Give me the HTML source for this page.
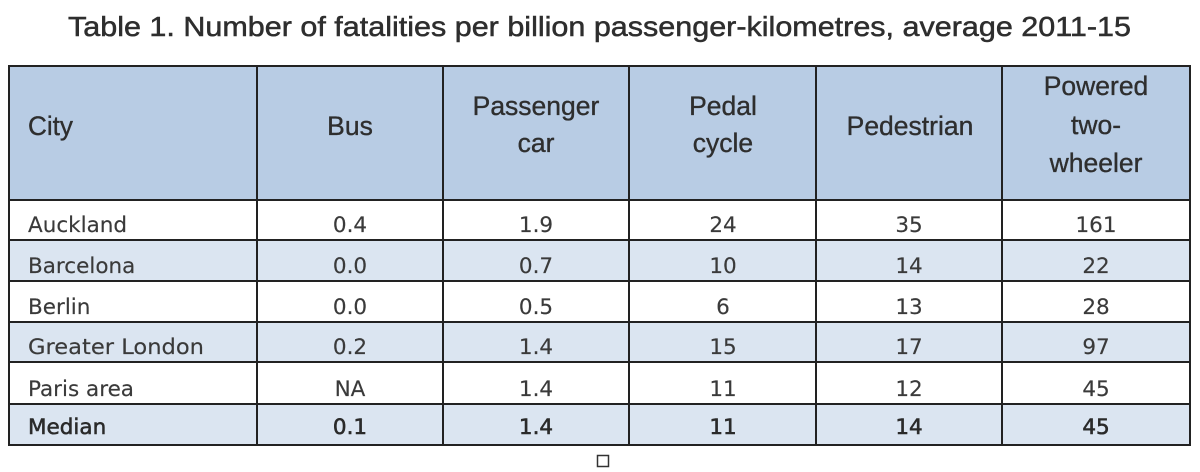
<!DOCTYPE html>
<html>
<head>
<meta charset="utf-8">
<style>
  html, body { margin: 0; padding: 0; background: #ffffff; }
  body { width: 1200px; height: 472px; overflow: hidden; }
  svg { display: block; }
  .title { font-family: "Liberation Sans", sans-serif; font-size: 28px; fill: #2e2e2e; stroke: #2e2e2e; stroke-width: 0.5px; }
  .hd { font-family: "Liberation Sans", sans-serif; font-size: 26.5px; fill: #2e2e2e; stroke: #2e2e2e; stroke-width: 0.35px; }
  .bd { font-family: "DejaVu Sans", "Liberation Sans", sans-serif; font-size: 21.5px; fill: #3a3a3a; stroke: #3a3a3a; stroke-width: 0.15px; }
  .bold { stroke: #2a2a2a; stroke-width: 0.55px; fill: #2a2a2a; }
</style>
</head>
<body>
<svg width="1200" height="472" viewBox="0 0 1200 472" xmlns="http://www.w3.org/2000/svg">
  <rect x="0" y="0" width="1200" height="472" fill="#ffffff"/>

  <!-- Title -->
  <text class="title" x="68" y="36" textLength="1063" lengthAdjust="spacingAndGlyphs">Table 1. Number of fatalities per billion passenger-kilometres, average 2011-15</text>

  <!-- Backgrounds -->
  <rect x="9" y="66" width="1181" height="134" fill="#b8cce4"/>
  <rect x="9" y="240" width="1181" height="41" fill="#dbe5f1"/>
  <rect x="9" y="322" width="1181" height="40" fill="#dbe5f1"/>
  <rect x="9" y="404" width="1181" height="41" fill="#dbe5f1"/>

  <!-- Grid lines -->
  <g stroke="#222222" stroke-width="2" fill="none">
    <line x1="8" y1="66" x2="1191" y2="66"/>
    <line x1="8" y1="200" x2="1191" y2="200"/>
    <line x1="8" y1="240" x2="1191" y2="240"/>
    <line x1="8" y1="281" x2="1191" y2="281"/>
    <line x1="8" y1="322" x2="1191" y2="322"/>
    <line x1="8" y1="362" x2="1191" y2="362"/>
    <line x1="8" y1="404" x2="1191" y2="404"/>
    <line x1="8" y1="445" x2="1191" y2="445"/>
    <line x1="9" y1="65" x2="9" y2="446"/>
    <line x1="257" y1="65" x2="257" y2="446"/>
    <line x1="443" y1="65" x2="443" y2="446"/>
    <line x1="629" y1="65" x2="629" y2="446"/>
    <line x1="816" y1="65" x2="816" y2="446"/>
    <line x1="1002" y1="65" x2="1002" y2="446"/>
    <line x1="1190" y1="65" x2="1190" y2="446"/>
  </g>

  <!-- Header -->
  <text class="hd" x="28" y="135" textLength="45" lengthAdjust="spacingAndGlyphs">City</text>
  <text class="hd" x="350" y="135" text-anchor="middle">Bus</text>
  <text class="hd" x="536" y="115" text-anchor="middle">Passenger</text>
  <text class="hd" x="536" y="152" text-anchor="middle">car</text>
  <text class="hd" x="723" y="115" text-anchor="middle">Pedal</text>
  <text class="hd" x="723" y="152" text-anchor="middle">cycle</text>
  <text class="hd" x="910" y="135" text-anchor="middle">Pedestrian</text>
  <text class="hd" x="1096" y="95" text-anchor="middle">Powered</text>
  <text class="hd" x="1096" y="134" text-anchor="middle">two-</text>
  <text class="hd" x="1096" y="172" text-anchor="middle">wheeler</text>

  <!-- Body rows -->
  <g class="bd">
    <text x="28" y="232">Auckland</text>
    <text x="350" y="232" text-anchor="middle">0.4</text>
    <text x="536" y="232" text-anchor="middle">1.9</text>
    <text x="723" y="232" text-anchor="middle">24</text>
    <text x="909" y="232" text-anchor="middle">35</text>
    <text x="1096" y="232" text-anchor="middle">161</text>

    <text x="28" y="273">Barcelona</text>
    <text x="350" y="273" text-anchor="middle">0.0</text>
    <text x="536" y="273" text-anchor="middle">0.7</text>
    <text x="723" y="273" text-anchor="middle">10</text>
    <text x="909" y="273" text-anchor="middle">14</text>
    <text x="1096" y="273" text-anchor="middle">22</text>

    <text x="28" y="314">Berlin</text>
    <text x="350" y="314" text-anchor="middle">0.0</text>
    <text x="536" y="314" text-anchor="middle">0.5</text>
    <text x="723" y="314" text-anchor="middle">6</text>
    <text x="909" y="314" text-anchor="middle">13</text>
    <text x="1096" y="314" text-anchor="middle">28</text>

    <text x="28" y="354" textLength="176" lengthAdjust="spacingAndGlyphs">Greater London</text>
    <text x="350" y="354" text-anchor="middle">0.2</text>
    <text x="536" y="354" text-anchor="middle">1.4</text>
    <text x="723" y="354" text-anchor="middle">15</text>
    <text x="909" y="354" text-anchor="middle">17</text>
    <text x="1096" y="354" text-anchor="middle">97</text>

    <text x="28" y="396">Paris area</text>
    <text x="350" y="396" text-anchor="middle">NA</text>
    <text x="536" y="396" text-anchor="middle">1.4</text>
    <text x="723" y="396" text-anchor="middle">11</text>
    <text x="909" y="396" text-anchor="middle">12</text>
    <text x="1096" y="396" text-anchor="middle">45</text>
  </g>
  <g class="bd bold">
    <text x="28" y="434">Median</text>
    <text x="350" y="434" text-anchor="middle">0.1</text>
    <text x="536" y="434" text-anchor="middle">1.4</text>
    <text x="723" y="434" text-anchor="middle">11</text>
    <text x="909" y="434" text-anchor="middle">14</text>
    <text x="1096" y="434" text-anchor="middle">45</text>
  </g>

  <!-- Small box below table -->
  <rect x="597.5" y="455.5" width="11" height="11" fill="#ffffff" stroke="#333333" stroke-width="1.5"/>
</svg>
</body>
</html>
